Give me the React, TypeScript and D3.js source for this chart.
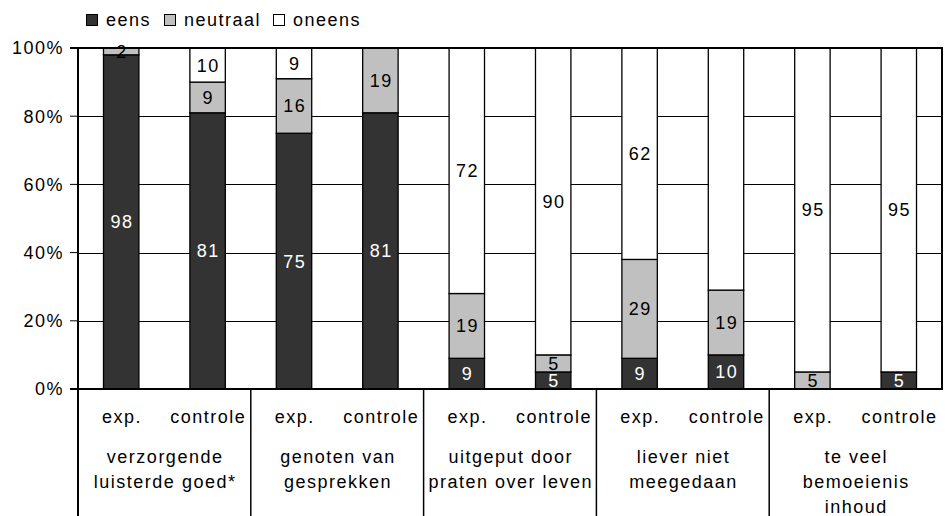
import React from "react";
import * as d3 from "d3";

const groups = [
  ["verzorgende", "luisterde goed*"],
  ["genoten van", "gesprekken"],
  ["uitgeput door", "praten over leven"],
  ["liever niet", "meegedaan"],
  ["te veel", "bemoeienis", "inhoud"],
];
const conditions = ["exp.", "controle"];
const seriesNames = ["eens", "neutraal", "oneens"];
const eens = [98, 81, 75, 81, 9, 5, 9, 10, 0, 5];
const neutraal = [2, 9, 16, 19, 19, 5, 29, 19, 5, 0];
const oneens = [0, 10, 9, 0, 72, 90, 62, 71, 95, 95];
// labels not shown in the reference (series, bar index)
const hiddenLabels = [["oneens", 7]];
const yTicks = [0, 20, 40, 60, 80, 100];
const colors = ["#333333", "#c0c0c0", "#ffffff"];
const labelColors = ["#ffffff", "#000000", "#000000"];

const W = 945;
const H = 516;
const M = { left: 78, right: 942, top: 48, bottom: 389 };
const FONT = "'Liberation Sans', Arial, sans-serif";
const FS = 18;
const LS = 1.5;

export default function App() {
  const bars = groups.flatMap((g, gi) => conditions.map((c, ci) => ({ id: `${gi}-${ci}`, gi, ci, cond: c })));
  const rows = bars.map((b, i) => ({ id: b.id, eens: eens[i], neutraal: neutraal[i], oneens: oneens[i] }));
  const x = d3.scaleBand().domain(bars.map((b) => b.id)).range([M.left, M.right]).paddingInner(0.59).paddingOuter(0.295);
  const y = d3.scaleLinear().domain([0, 100]).range([M.bottom, M.top]);
  const stack = d3.stack().keys(seriesNames);
  const stacked = stack(rows as any);
  const step = x.step();
  const groupX = (gi: number) => M.left + step * 2 * gi;

  return (
    <svg width={W} height={H} style={{ position: "absolute", left: 0, top: 0, background: "#fff" }} fontFamily={FONT}>
      {/* legend */}
      {seriesNames.map((s, i) => {
        const lx = [86, 164, 273][i];
        return (
          <g key={s}>
            <rect x={lx + 0.5} y={14.5} width={11} height={11} fill={colors[i]} stroke="#000" strokeWidth={1} />
            <text x={lx + 20} y={26} fontSize={FS} letterSpacing={LS} fill="#000">{s}</text>
          </g>
        );
      })}
      {/* gridlines */}
      {yTicks.filter((t) => t > 0 && t < 100).map((t) => (
        <line key={t} x1={M.left} x2={M.right} y1={Math.round(y(t)) + 0.5} y2={Math.round(y(t)) + 0.5} stroke="#000" strokeWidth={1} />
      ))}
      {/* bars */}
      {stacked.map((layer, si) => (
        <g key={layer.key}>
          {layer.map((d, bi) => {
            const h = y(d[0]) - y(d[1]);
            if (h <= 0) return null;
            return (
              <rect key={bi} x={x(bars[bi].id)!} y={y(d[1])} width={x.bandwidth()} height={h}
                fill={colors[si]} stroke="#000" strokeWidth={1.3} />
            );
          })}
        </g>
      ))}
      {/* bar labels */}
      {stacked.map((layer, si) => (
        <g key={"l" + layer.key}>
          {layer.map((d, bi) => {
            const v = d[1] - d[0];
            if (v <= 0) return null;
            if (hiddenLabels.some(([s, i]) => s === layer.key && i === bi)) return null;
            return (
              <text key={bi} x={x(bars[bi].id)! + x.bandwidth() / 2 + LS / 2} y={y((d[0] + d[1]) / 2)} dy="0.36em"
                textAnchor="middle" fontSize={FS} letterSpacing={LS} fill={labelColors[si]}>{v}</text>
            );
          })}
        </g>
      ))}
      {/* plot frame */}
      <line x1={M.left} x2={M.right + 1} y1={M.top} y2={M.top} stroke="#000" strokeWidth={2} />
      <line x1={M.right} x2={M.right} y1={M.top} y2={M.bottom} stroke="#000" strokeWidth={2} />
      <line x1={M.left - 8} x2={M.right + 1} y1={M.bottom} y2={M.bottom} stroke="#000" strokeWidth={2} />
      <line x1={M.left} x2={M.left} y1={M.top} y2={H} stroke="#000" strokeWidth={2} />
      {/* y ticks */}
      {yTicks.map((t) => (
        <g key={t}>
          <line x1={M.left - 8} x2={M.left} y1={y(t)} y2={y(t)} stroke="#000" strokeWidth={t === 0 || t === 100 ? 2 : 1} />
          <text x={M.left - 14} y={y(t)} dy="0.36em" textAnchor="end" fontSize={FS} letterSpacing={LS} fill="#000">{t}%</text>
        </g>
      ))}
      {/* group separators */}
      {groups.slice(1).map((g, gi) => (
        <line key={gi} x1={groupX(gi + 1)} x2={groupX(gi + 1)} y1={M.bottom} y2={H} stroke="#000" strokeWidth={1.5} />
      ))}
      {/* category labels */}
      {bars.map((b) => (
        <text key={b.id} x={x(b.id)! + x.bandwidth() / 2 + LS / 2} y={423} textAnchor="middle" fontSize={FS} letterSpacing={LS} fill="#000">{b.cond}</text>
      ))}
      {groups.map((g, gi) => (
        <text key={gi} x={groupX(gi) + step + LS / 2} y={463} textAnchor="middle" fontSize={FS} letterSpacing={LS} fill="#000">
          {g.map((line, li) => (
            <tspan key={li} x={groupX(gi) + step + LS / 2} y={463 + li * 25}>{line}</tspan>
          ))}
        </text>
      ))}
    </svg>
  );
}
